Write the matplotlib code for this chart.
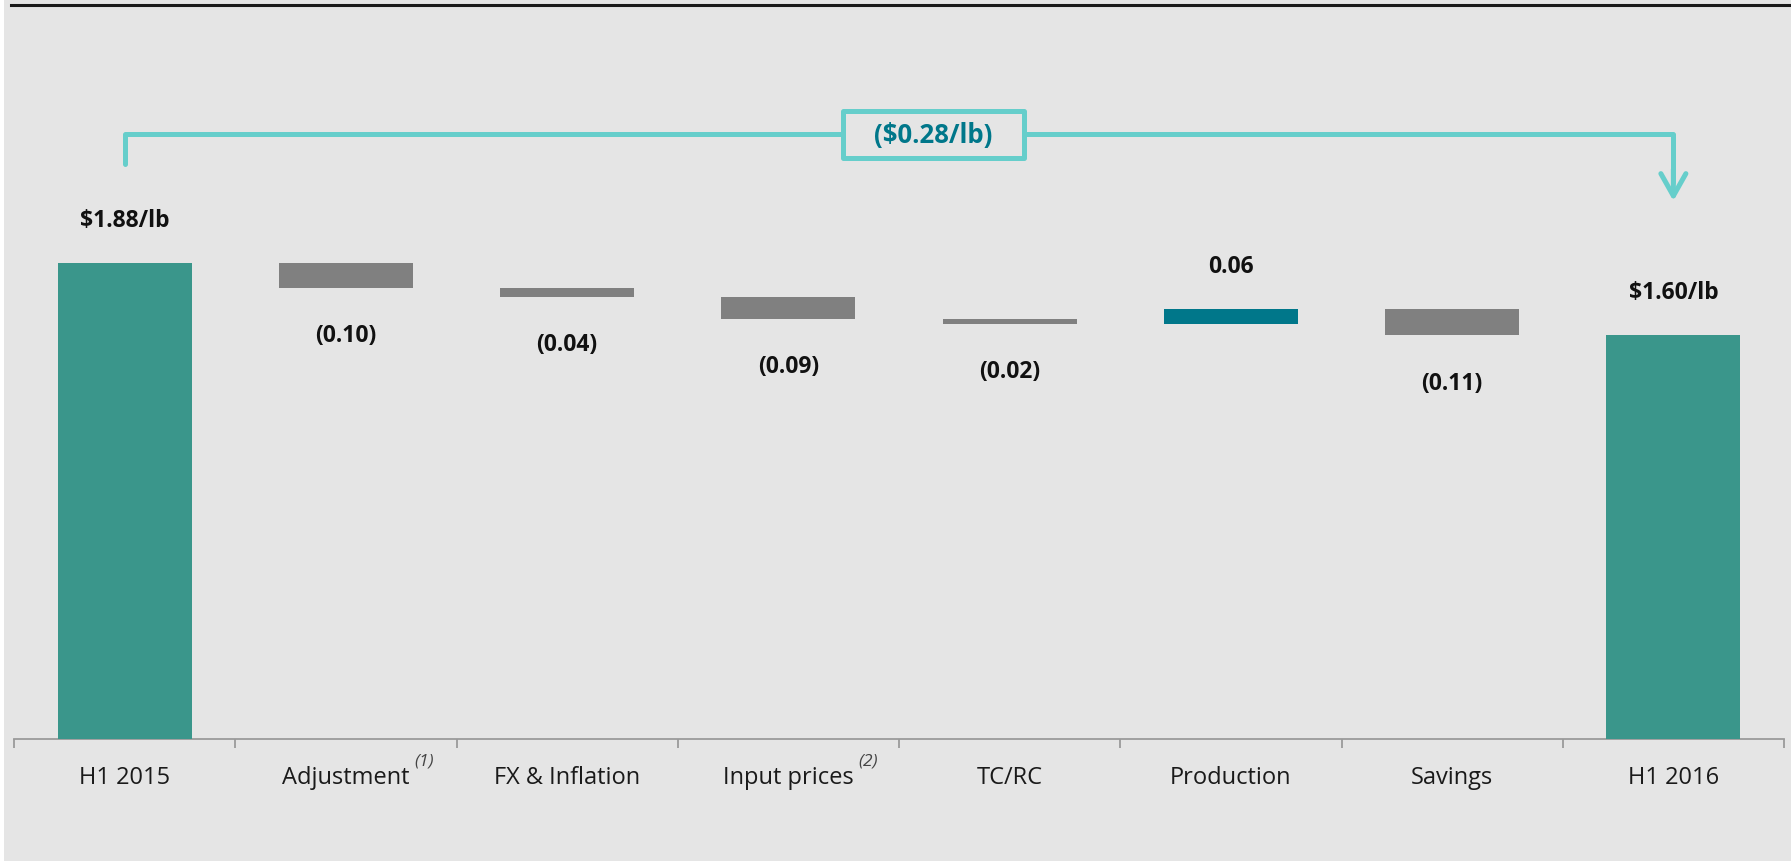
import matplotlib
matplotlib.use("Agg")
import matplotlib.pyplot as plt
from matplotlib.patches import Rectangle
import numpy as np

plt.rcParams['font.family'] = ['Open Sans', 'DejaVu Sans']

# ---- data ----
categories = ["H1 2015", "Adjustment", "FX & Inflation", "Input prices",
              "TC/RC", "Production", "Savings", "H1 2016"]
superscripts = ["", "(1)", "", "(2)", "", "", "", ""]
start_value = 1.88
deltas = [-0.098, -0.037, -0.087, -0.019, 0.059, -0.104]
end_value = 1.594
value_labels = ["$1.88/lb", "(0.10)", "(0.04)", "(0.09)", "(0.02)", "0.06", "(0.11)", "$1.60/lb"]
total_change_label = "($0.28/lb)"

# ---- style ----
BG = "#E5E5E5"
TEAL = "#3A968B"
GREY = "#808080"
DARKTEAL = "#00778A"
BRACKET = "#66CECB"

W, H, DPI = 1791, 862, 100
fig = plt.figure(figsize=(W / DPI, H / DPI), dpi=DPI, facecolor="white")
fig.patches.append(Rectangle((4 / W, 0), 1, 1, transform=fig.transFigure,
                             facecolor=BG, edgecolor="none", zorder=-10))
fig.add_artist(plt.Line2D([11 / W, 1], [1 - 6 / H, 1 - 6 / H], transform=fig.transFigure,
                          color="#1a1a1a", lw=2.2))

px_per_unit = 253.2
base_px = 740
ax = fig.add_axes([14 / W, (H - base_px) / H, 1770 / W, base_px / H])
ax.set_facecolor("none")
ax.set_xlim(-0.5, len(categories) - 0.5)
ax.set_ylim(0, base_px / px_per_unit)

# waterfall geometry from data
x = np.arange(len(categories))
bottoms, heights, colors = [], [], []
bottoms.append(0); heights.append(start_value); colors.append(TEAL)
level = start_value
for d in deltas:
    new = level + d
    bottoms.append(min(level, new))
    heights.append(abs(d))
    colors.append(DARKTEAL if d > 0 else GREY)
    level = new
bottoms.append(0); heights.append(end_value); colors.append(TEAL)

ax.bar(x, heights, bottom=bottoms, width=0.605, color=colors, zorder=3)

# value labels
signs = [1] + [1 if d > 0 else -1 for d in deltas] + [1]
for i, (lab, s) in enumerate(zip(value_labels, signs)):
    yref = bottoms[i] + heights[i] if s > 0 else bottoms[i]
    off = 31 if s > 0 else -34
    ax.annotate(lab, xy=(x[i], yref), xytext=(0, off), textcoords="offset points",
                ha="center", va="center", fontsize=16.5, fontweight="bold", color="#111111")

# axes styling
for sp in ["top", "left", "right"]:
    ax.spines[sp].set_visible(False)
ax.spines["bottom"].set_color("#9a9a9a")
ax.spines["bottom"].set_linewidth(1.3)
ax.set_yticks([])
ax.set_xticks(x)
ax.set_xticklabels(categories, fontsize=17, color="#1a1a1a")
ax.tick_params(axis="x", which="major", length=0, pad=18.5)
ax.set_xticks(np.arange(-0.5, len(categories), 1.0), minor=True)
ax.tick_params(axis="x", which="minor", length=6.5, width=1.3, color="#9a9a9a", direction="out")

# bracket with total change
yb = 2.388
ax.plot([0, 0, 7, 7], [2.27, yb, yb, 2.2], color=BRACKET, lw=3.6,
        solid_joinstyle="round", solid_capstyle="round", zorder=4)
ax.annotate("", xy=(7, 2.125), xytext=(7, 2.25),
            arrowprops=dict(arrowstyle="->,head_length=0.8,head_width=0.45", lw=3.6,
                            color=BRACKET, shrinkA=0, shrinkB=0, mutation_scale=20,
                            capstyle="round", joinstyle="round"), zorder=4)
ax.add_patch(Rectangle((3.245, 2.293), 4.067 - 3.245, 2.482 - 2.293, facecolor=BG,
                       edgecolor=BRACKET, lw=3.6, joinstyle="round", zorder=5))
ax.text((3.245 + 4.067) / 2, yb, total_change_label, ha="center", va="center",
        fontsize=18.5, fontweight="bold", color=DARKTEAL, zorder=6)

# superscripts on tick labels
fig.canvas.draw()
for lbl, sup in zip(ax.get_xticklabels(), superscripts):
    if sup:
        bb = lbl.get_window_extent()
        cy = (bb.y0 + bb.y1) / 2
        fig.text(bb.x1 + 5, cy + 16, sup, transform=None, fontsize=12.5,
                 style="italic", color="#444444", ha="left", va="center")

fig.savefig("out.png", dpi=DPI, facecolor=fig.get_facecolor())
